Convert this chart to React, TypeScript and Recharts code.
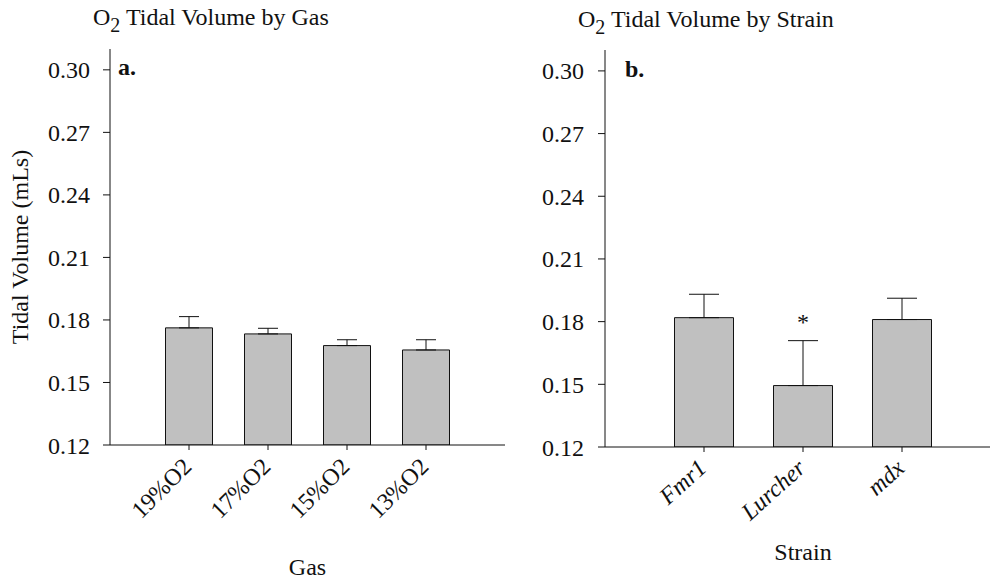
import React from 'react';
import { BarChart, Bar, XAxis, YAxis, ErrorBar, ReferenceDot } from 'recharts';

// panel a: tidal volume by gas
const gasLabels = ['19%O2', '17%O2', '15%O2', '13%O2'];
const gasValues = [0.1762, 0.1733, 0.1677, 0.1656];
const gasErrors = [0.0054, 0.0027, 0.0028, 0.0049];

// panel b: tidal volume by strain
const strainLabels = ['Fmr1', 'Lurcher', 'mdx'];
const strainValues = [0.1819, 0.1494, 0.181];
const strainErrors = [0.0112, 0.0215, 0.0102];
const strainMarks = ['', '*', ''];
const markLevel = 0.176;

const yTicks = [0.12, 0.15, 0.18, 0.21, 0.24, 0.27, 0.3];
const yDomain = [0.12, 0.31];

const FONT = "'Liberation Serif', 'DejaVu Serif', serif";
const FS = 24;
const INK = '#111';

const gasData = gasLabels.map((name, i) => ({
  pos: i + 1,
  name,
  value: gasValues[i],
  err: [0, gasErrors[i]],
}));

const strainData = strainLabels.map((name, i) => ({
  pos: i + 1,
  name,
  value: strainValues[i],
  err: [0, strainErrors[i]],
  mark: strainMarks[i],
}));

const makeTick = (labels: string[], italic: boolean, angle: number) => (props: any) => {
  const { x, y, payload } = props;
  const tx = x + 4;
  const ty = y + 16;
  return (
    <text
      x={tx}
      y={ty}
      textAnchor="end"
      transform={`rotate(${angle}, ${tx}, ${ty})`}
      fontFamily={FONT}
      fontSize={FS}
      fontStyle={italic ? 'italic' : 'normal'}
      fill={INK}
    >
      {labels[payload.value - 1]}
    </text>
  );
};

const GasTick = makeTick(gasLabels, false, -45);
const StrainTick = makeTick(strainLabels, true, -42);

const axisTick = { fill: INK, fontSize: FS, fontFamily: FONT };

export default function App() {
  return (
    <div style={{ position: 'absolute', left: 0, top: 0, width: 990, height: 579, overflow: 'hidden', background: '#fff' }}>
      <div style={{ position: 'absolute', left: 0, top: 0 }}>
        <BarChart width={505} height={579} data={gasData} margin={{ top: 49, right: 0, bottom: 0, left: 0 }}>
          <XAxis
            dataKey="pos"
            type="number"
            domain={[0, 5]}
            ticks={[1, 2, 3, 4]}
            height={134}
            tick={<GasTick />}
            tickSize={5}
            axisLine={{ stroke: INK }}
            tickLine={{ stroke: INK }}
            label={{ value: 'Gas', position: 'insideBottom', offset: 4, fill: INK, fontSize: FS, fontFamily: FONT }}
          />
          <YAxis
            domain={yDomain}
            ticks={yTicks}
            allowDataOverflow
            width={110}
            tickSize={7}
            tickMargin={13}
            tickFormatter={(v: number) => v.toFixed(2)}
            tick={axisTick}
            axisLine={{ stroke: INK }}
            tickLine={{ stroke: INK }}
            label={{
              value: 'Tidal Volume (mLs)',
              angle: -90,
              position: 'insideLeft',
              offset: 19,
              fill: INK,
              fontSize: FS,
              fontFamily: FONT,
              style: { textAnchor: 'middle' },
            }}
          />
          <Bar dataKey="value" barSize={47} fill="#c0c0c0" stroke={INK} strokeWidth={1} isAnimationActive={false}>
            <ErrorBar dataKey="err" direction="y" width={10} stroke={INK} strokeWidth={1} isAnimationActive={false} />
          </Bar>
        </BarChart>
      </div>

      <div style={{ position: 'absolute', left: 500, top: 0 }}>
        <BarChart width={501} height={579} data={strainData} margin={{ top: 50, right: 0, bottom: 0, left: 0 }}>
          <XAxis
            dataKey="pos"
            type="number"
            domain={[0, 4]}
            ticks={[1, 2, 3]}
            height={132}
            tick={<StrainTick />}
            tickSize={5}
            axisLine={{ stroke: INK }}
            tickLine={{ stroke: INK }}
            label={{ value: 'Strain', position: 'insideBottom', offset: 19, fill: INK, fontSize: FS, fontFamily: FONT }}
          />
          <YAxis
            domain={yDomain}
            ticks={yTicks}
            allowDataOverflow
            width={105}
            tickSize={7}
            tickMargin={14}
            tickFormatter={(v: number) => v.toFixed(2)}
            tick={axisTick}
            axisLine={{ stroke: INK }}
            tickLine={{ stroke: INK }}
          />
          <Bar dataKey="value" barSize={59} fill="#c0c0c0" stroke={INK} strokeWidth={1} isAnimationActive={false}>
            <ErrorBar dataKey="err" direction="y" width={15} stroke={INK} strokeWidth={1} isAnimationActive={false} />
          </Bar>
          {strainData
            .filter((d) => d.mark)
            .map((d) => (
              <ReferenceDot
                key={d.name}
                x={d.pos}
                y={markLevel}
                r={0}
                shape={(p: any) => (
                  <text x={p.cx} y={p.cy} textAnchor="middle" fontFamily={FONT} fontSize={FS} fill={INK}>
                    {d.mark}
                  </text>
                )}
              />
            ))}
        </BarChart>
      </div>

      <svg width={990} height={579} style={{ position: 'absolute', left: 0, top: 0, pointerEvents: 'none' }}>
        <text x={93} y={25} fontFamily={FONT} fontSize={FS} fill={INK}>
          <tspan>O</tspan>
          <tspan dy={7} fontSize={20}>2</tspan>
          <tspan dy={-7}> Tidal Volume by Gas</tspan>
        </text>
        <text x={578} y={27} fontFamily={FONT} fontSize={FS} fill={INK}>
          <tspan>O</tspan>
          <tspan dy={7} fontSize={20}>2</tspan>
          <tspan dy={-7}> Tidal Volume by Strain</tspan>
        </text>
        <text x={118} y={75} fontFamily={FONT} fontSize={FS} fontWeight="bold" fill={INK}>a.</text>
        <text x={625} y={77} fontFamily={FONT} fontSize={FS} fontWeight="bold" fill={INK}>b.</text>
      </svg>
    </div>
  );
}
